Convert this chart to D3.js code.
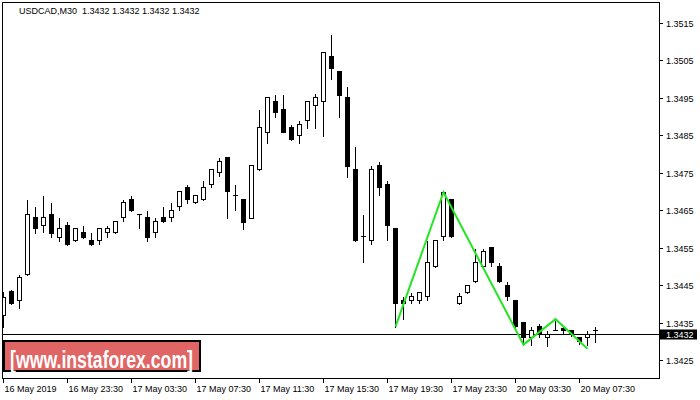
<!DOCTYPE html>
<html><head><meta charset="utf-8">
<script src="https://cdn.jsdelivr.net/npm/d3@7"></script>
<style>
html,body{margin:0;padding:0;background:#fff;}
svg{display:block;}
text{font-family:"Liberation Sans",Arial,sans-serif;}
</style></head>
<body>
<svg id="c" width="700" height="400"></svg>
<script>
const title = "USDCAD,M30  1.3432 1.3432 1.3432 1.3432";
const opens = [1.34370,1.34433,1.34410,1.34480,1.34631,1.34610,1.34639,1.34579,1.34610,1.34570,
1.34591,1.34570,1.34570,1.34591,1.34591,1.34631,1.34680,1.34639,1.34631,1.34591,
1.34631,1.34631,1.34661,1.34711,1.34671,1.34679,1.34719,1.34751,1.34791,1.34690,
1.34679,1.34630,1.34759,1.34860,1.34941,1.34920,1.34873,1.34850,1.34890,1.34930,
1.34941,1.35061,1.35022,1.34952,1.34760,1.34580,1.34570,1.34770,1.34720,1.34603,
1.34410,1.34410,1.34410,1.34420,1.34500,1.34580,1.34680,1.34402,1.34431,1.34460,
1.34500,1.34551,1.34500,1.34450,1.34410,1.34351,1.34311,1.34340,1.34311,1.34330,
1.34336,1.34330,1.34311,1.34311,1.34330,1.34320];
const highs = [1.34433,1.34439,1.34480,1.34680,1.34661,1.34690,1.34672,1.34631,1.34621,1.34604,
1.34610,1.34591,1.34604,1.34610,1.34623,1.34680,1.34690,1.34640,1.34650,1.34631,
1.34661,1.34672,1.34703,1.34720,1.34692,1.34731,1.34761,1.34791,1.34793,1.34720,
1.34681,1.34772,1.34921,1.34954,1.34960,1.34960,1.34881,1.34891,1.34943,1.34962,
1.35074,1.35121,1.35024,1.34982,1.34822,1.34640,1.34770,1.34781,1.34731,1.34605,
1.34422,1.34431,1.34433,1.34570,1.34572,1.34704,1.34682,1.34431,1.34452,1.34550,
1.34548,1.34553,1.34511,1.34460,1.34412,1.34353,1.34340,1.34348,1.34330,1.34356,
1.34340,1.34332,1.34313,1.34330,1.34340,1.34320];
const lows = [1.34339,1.34400,1.34390,1.34478,1.34590,1.34591,1.34579,1.34569,1.34557,1.34568,
1.34577,1.34557,1.34559,1.34579,1.34589,1.34621,1.34648,1.34602,1.34569,1.34579,
1.34619,1.34621,1.34650,1.34670,1.34669,1.34677,1.34711,1.34741,1.34630,1.34650,
1.34601,1.34628,1.34757,1.34830,1.34900,1.34858,1.34838,1.34830,1.34870,1.34870,
1.34849,1.35001,1.34900,1.34740,1.34568,1.34511,1.34559,1.34690,1.34570,1.34339,
1.34359,1.34402,1.34402,1.34410,1.34498,1.34570,1.34578,1.34400,1.34429,1.34458,
1.34498,1.34500,1.34458,1.34410,1.34338,1.34291,1.34290,1.34311,1.34288,1.34329,
1.34322,1.34314,1.34293,1.34290,1.34298,1.34320];
const closes = [1.34419,1.34402,1.34471,1.34640,1.34602,1.34631,1.34590,1.34602,1.34559,1.34602,
1.34579,1.34559,1.34602,1.34602,1.34621,1.34672,1.34650,1.34639,1.34579,1.34621,
1.34621,1.34650,1.34701,1.34679,1.34690,1.34711,1.34759,1.34781,1.34701,1.34690,
1.34619,1.34770,1.34873,1.34952,1.34912,1.34860,1.34840,1.34880,1.34941,1.34952,
1.35072,1.35031,1.34959,1.34769,1.34570,1.34580,1.34759,1.34711,1.34610,1.34402,
1.34402,1.34420,1.34431,1.34511,1.34570,1.34698,1.34580,1.34420,1.34450,1.34511,
1.34540,1.34511,1.34460,1.34420,1.34340,1.34311,1.34330,1.34321,1.34319,1.34330,
1.34330,1.34319,1.34300,1.34319,1.34330,1.34320];
const xTickBars = [0,8,16,24,32,40,48,56,64,72];
const xTickLabels = ["16 May 2019","16 May 23:30","17 May 03:30","17 May 07:30","17 May 11:30",
"17 May 15:30","17 May 19:30","17 May 23:30","20 May 03:30","20 May 07:30"];
const yTicks = [1.3425,1.3435,1.3445,1.3455,1.3465,1.3475,1.3485,1.3495,1.3505,1.3515];
const yTickLabels = ["1.3425","1.3435","1.3445","1.3455","1.3465","1.3475","1.3485","1.3495","1.3505","1.3515"];
const patternBars = [49,55,65,69,73];
const patternPrices = [1.34339,1.34698,1.34291,1.34359,1.34280];
const lastPrice = 1.3432;
const lastPriceLabel = "1.3432";
const watermark = "[www.instaforex.com]";

const svg = d3.select("#c");
const L = 2.5, R = 659.5, T = 2.5, B = 378.5;
const x = d3.scaleLinear().domain([0, 82]).range([3.5, 659.5]);
const y = d3.scaleLinear().domain([1.3425, 1.3515]).range([360, 23]);
const py = v => Math.round(y(v)) + 0.5;

svg.append("defs").append("clipPath").attr("id","pc")
  .append("rect").attr("x", 3).attr("y", 3).attr("width", R - 3).attr("height", B - 3);

const plot = svg.append("g").attr("clip-path","url(#pc)");

// current price line
plot.append("line").attr("x1", L).attr("x2", R)
  .attr("y1", py(lastPrice)).attr("y2", py(lastPrice))
  .attr("stroke","#000").attr("stroke-width",1);

const idx = d3.range(opens.length);
const g = plot.append("g");
idx.forEach(i => {
  const cx = x(i);
  const o = opens[i], c = closes[i], h = highs[i], l = lows[i];
  g.append("line").attr("x1", cx).attr("x2", cx)
    .attr("y1", py(h)).attr("y2", py(l) + 0.5 - 0.5)
    .attr("stroke","#000").attr("stroke-width",1).attr("shape-rendering","crispEdges");
  const yo = py(o), yc = py(c);
  const top = Math.min(yo, yc), hgt = Math.abs(yo - yc);
  if (hgt < 1) {
    g.append("line").attr("x1", cx - 2.5).attr("x2", cx + 2.5)
      .attr("y1", yo).attr("y2", yo).attr("stroke","#000").attr("stroke-width",1)
      .attr("shape-rendering","crispEdges");
  } else {
    g.append("rect").attr("x", cx - 2).attr("y", top).attr("width", 4).attr("height", hgt)
      .attr("fill", c > o ? "#fff" : "#000").attr("stroke","#000").attr("stroke-width",1)
      .attr("shape-rendering","crispEdges");
  }
});

// pattern line
const pline = d3.line().x((d,i) => x(patternBars[i])).y(d => y(d));
plot.append("path").attr("d", pline(patternPrices))
  .attr("fill","none").attr("stroke","#22e622").attr("stroke-width",2).attr("stroke-linejoin","miter");

// frame
svg.append("path").attr("d", `M${L},${B}V${T}H${R}V${B}Z`)
  .attr("fill","none").attr("stroke","#000").attr("stroke-width",1).attr("shape-rendering","crispEdges");

// y axis ticks
const yax = svg.append("g");
yTicks.forEach((v,i) => {
  const yy = py(v);
  yax.append("line").attr("x1", R).attr("x2", R + 3).attr("y1", yy).attr("y2", yy)
    .attr("stroke","#000").attr("shape-rendering","crispEdges");
  yax.append("text").attr("x", 666).attr("y", yy + 3.5).attr("font-size", 9)
    .attr("fill","#000").text(yTickLabels[i]);
});

// x axis ticks
const xax = svg.append("g");
xTickBars.forEach((b,i) => {
  const xx = x(b);
  xax.append("line").attr("x1", xx).attr("x2", xx).attr("y1", B).attr("y2", B + 4.5)
    .attr("stroke","#000").attr("shape-rendering","crispEdges");
  xax.append("text").attr("x", xx + 1).attr("y", 392).attr("font-size", 9)
    .attr("fill","#000").text(xTickLabels[i]);
});

// last price label
svg.append("rect").attr("x", 660).attr("y", py(lastPrice) - 5).attr("width", 37).attr("height", 10)
  .attr("fill","#000");
svg.append("text").attr("x", 666).attr("y", py(lastPrice) + 3.5).attr("font-size", 9)
  .attr("fill","#fff").text(lastPriceLabel);

// title
svg.append("text").attr("x", 19).attr("y", 14).attr("font-size", 9).attr("fill","#000")
  .attr("xml:space","preserve").style("white-space","pre").text(title);

// watermark
svg.append("rect").attr("x", 4).attr("y", 341).attr("width", 196).attr("height", 30)
  .attr("fill","#e06666").attr("stroke","#000").attr("stroke-width",2);
svg.append("text").attr("x", 10).attr("y", 367.5).attr("font-size", 23)
  .attr("fill","#fff").attr("font-weight","bold")
  .style("font-family","'Liberation Sans Narrow','Liberation Sans',Arial,sans-serif")
  .attr("textLength", 183).attr("lengthAdjust","spacingAndGlyphs")
  .text(watermark);
</script>
</body></html>
